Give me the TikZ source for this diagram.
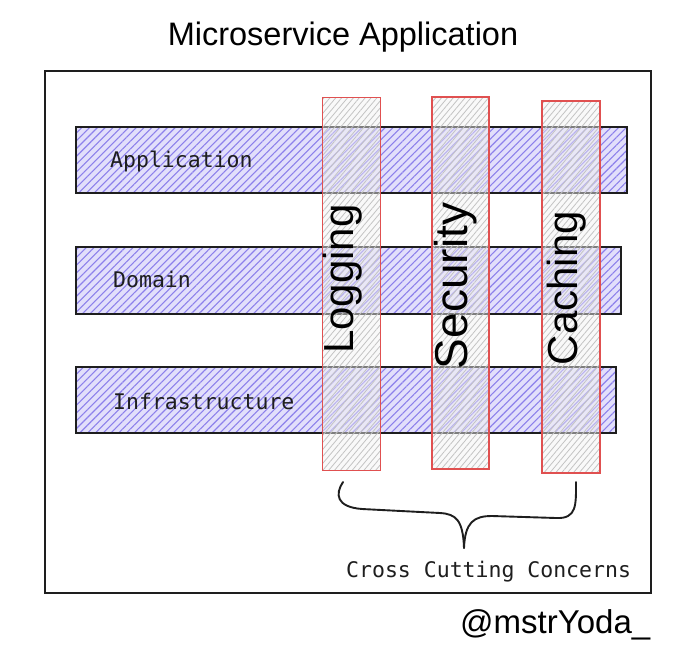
\documentclass[tikz,border=0pt]{standalone}
\usepackage{fontspec}
\setmainfont{Liberation Sans}
\newfontfamily\monof{DejaVu Sans Mono}
\usetikzlibrary{patterns.meta}
\definecolor{ink}{RGB}{30,30,30}
\definecolor{barbg}{RGB}{226,223,251}
\definecolor{barline}{RGB}{140,128,235}
\definecolor{colred}{RGB}{224,80,80}
\definecolor{colline}{RGB}{195,195,195}
\begin{document}
\begin{tikzpicture}[x=1pt,y=-1pt,
  layerbar/.style={draw=ink, line width=1.9pt, anchor=north west, inner sep=0pt,
    preaction={fill=barbg},
    pattern={Lines[angle=45,distance=5.5pt,line width=1.1pt]}, pattern color=barline},
  concern/.style={draw=colred, line width=1.8pt, anchor=north west, inner sep=0pt,
    preaction={fill=gray!10, fill opacity=0.45},
    pattern={Lines[angle=50,distance=4.5pt,line width=0.8pt]}, pattern color=colline},
  monolbl/.style={font=\monof\fontsize{21.5}{25}\selectfont, text=ink, inner sep=0pt},
  handlbl/.style={font=\fontsize{42}{48}\selectfont, text=black, inner sep=0pt, rotate=90, anchor=base},
  brace/.style={draw=ink, line width=1.9pt, line cap=round, line join=round}
]
\useasboundingbox (0,0) rectangle (684,645);
\fill[white] (0,0) rectangle (684,645);

% title
\node[font=\fontsize{32.5}{38}\selectfont, text=black, anchor=base, inner sep=0pt] (title) at (343,45) {Microservice Application};

% outer frame
\node[draw=ink, line width=1.9pt, anchor=north west, minimum width=606pt, minimum height=522pt, inner sep=0pt] (frame) at (44,70) {};

% layers
\node[layerbar, minimum width=551pt, minimum height=66pt] (app) at (75,126) {};
\node[layerbar, minimum width=545pt, minimum height=67pt] (dom) at (75,246) {};
\node[layerbar, minimum width=540pt, minimum height=66pt] (infra) at (75,366) {};

\node[monolbl, anchor=base west] (applbl) at (110,167) {Application};
\node[monolbl, anchor=base west] (domlbl) at (113,287) {Domain};
\node[monolbl, anchor=base west] (infralbl) at (113,409) {Infrastructure};

% cross cutting concerns
\node[concern, minimum width=58pt, minimum height=373pt] (log) at (322,97) {};
\node[concern, minimum width=57pt, minimum height=372pt] (sec) at (431,96) {};
\node[concern, minimum width=58pt, minimum height=372pt] (cach) at (541,100) {};

\node[handlbl] (loglbl) at (353,279) {Logging};
\node[handlbl, font=\fontsize{46}{52}\selectfont] (seclbl) at (467,286) {Security};
\node[handlbl] (cachlbl) at (577,288) {Caching};

% brace
\coordinate (bl) at (343,482);
\coordinate (br) at (576,482);
\coordinate (tip) at (464,548);
\draw[brace] (bl) .. controls (335,494) and (336,507) .. (362,509)
  -- (440,513) .. controls (456,514) and (463,520) .. (tip);
\draw[brace] (tip) .. controls (465,522) and (474,516) .. (492,516)
  -- (556,518) .. controls (577,519) and (576,505) .. (br);

\node[monolbl, anchor=base west] (ccc) at (346,577) {Cross Cutting Concerns};

% signature
\node[font=\fontsize{33}{38}\selectfont, text=black, anchor=base west, inner sep=0pt] (sig) at (460,633) {@mstrYoda\_};
\end{tikzpicture}
\end{document}
